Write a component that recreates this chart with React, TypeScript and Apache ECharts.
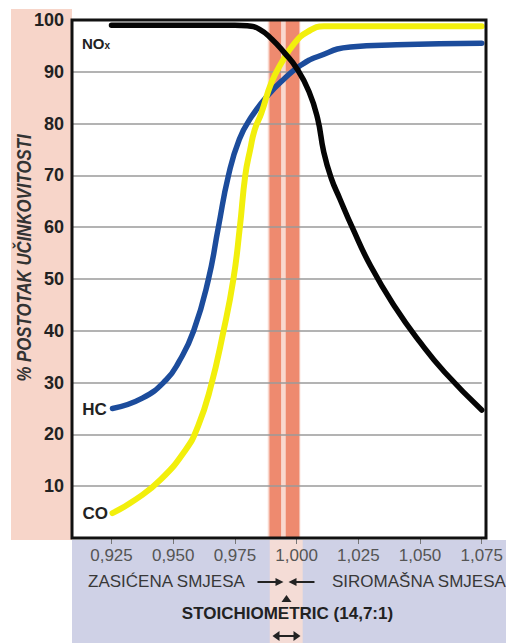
import React, { useEffect, useRef } from 'react';
import * as echarts from 'echarts';

// ---- data ----
const xTicks = [0.925, 0.95, 0.975, 1.0, 1.025, 1.05, 1.075];

const noxX = [0.925, 0.95, 0.975, 0.98, 0.985, 0.99, 0.995, 1.0, 1.005, 1.0085, 1.011, 1.014, 1.0175, 1.0225, 1.03, 1.04, 1.05, 1.06, 1.075];
const noxY = [99, 99, 99, 98.9, 98.2, 96.3, 93.7, 90.7, 86.2, 81, 74.5, 69.5, 65.5, 60, 52.5, 44.5, 37.8, 32, 24.7];

const hcX = [0.9254, 0.9375, 0.9471, 0.9523, 0.9583, 0.9643, 0.9683, 0.9724, 0.9768, 0.9817, 0.9884, 0.9951, 1.0018, 1.0084, 1.0218, 1.0406, 1.075];
const hcY = [25, 27, 30.5, 34, 40, 50, 60, 70, 77, 81.3, 85.5, 88.7, 91.3, 92.9, 94.8, 95.2, 95.5];

const coX = [0.9254, 0.935, 0.945, 0.955, 0.96, 0.965, 0.9704, 0.9744, 0.977, 0.9792, 0.9812, 0.983, 0.9857, 0.9897, 0.9937, 0.9991, 1.0044, 1.0111, 1.03, 1.075];
const coY = [4.8, 7.5, 11.3, 17, 21.5, 28.8, 40, 50, 60, 70, 75, 78.8, 82, 87.8, 91.6, 95.5, 97.7, 98.8, 98.8, 98.8];

const bandOuter = [0.9883, 1.0015];
const bandLeft = [0.989, 0.9937];
const bandRight = [0.9956, 1.0011];
const stoich = 0.995;

const X_MIN = 0.909;
const X_MAX = 1.075;
const GRID = { left: 72, top: 20, width: 414, height: 518 };

const FONT = 'Liberation Sans, Arial, sans-serif';

const xToPx = (v: number) => GRID.left + ((v - X_MIN) / (X_MAX - X_MIN)) * GRID.width;
const yToPx = (v: number) => GRID.top + (1 - v / 100) * GRID.height;

const zip = (xs: number[], ys: number[]) => xs.map((x, i) => [x, ys[i]]);

export default function App() {
  const ref = useRef<HTMLDivElement>(null);

  useEffect(() => {
    if (!ref.current) return;
    const chart = echarts.init(ref.current, null, { renderer: 'svg' });
    const bottom = GRID.top + GRID.height;
    const cx = xToPx(stoich);

    const curve = (name: string, xs: number[], ys: number[], color: string, width: number) => ({
      name,
      type: 'line',
      data: zip(xs, ys),
      symbol: 'none',
      showSymbol: false,
      smooth: 0.5,
      lineStyle: { color, width, cap: 'round', join: 'round' },
      z: 8,
    });

    chart.setOption({
      animation: false,
      backgroundColor: '#ffffff',
      grid: {
        left: GRID.left,
        top: GRID.top,
        width: GRID.width,
        height: GRID.height,
        show: true,
        backgroundColor: '#ffffff',
        borderWidth: 0,
      },
      xAxis: {
        type: 'value',
        min: X_MIN,
        max: X_MAX,
        z: 5,
        axisLine: { show: false },
        splitLine: { show: false },
        axisTick: {
          show: true,
          customValues: xTicks,
          length: 6,
          lineStyle: { color: '#777', width: 1 },
        },
        axisLabel: {
          customValues: xTicks,
          formatter: (v: number) => v.toFixed(3).replace('.', ','),
          color: '#555',
          fontSize: 17,
          fontFamily: FONT,
          margin: 9,
        },
      },
      yAxis: {
        type: 'value',
        min: 0,
        max: 100,
        interval: 10,
        z: 5,
        axisLine: { show: false },
        axisTick: { show: false },
        splitLine: { show: true, lineStyle: { color: '#9a9a9a', width: 1.5 } },
        axisLabel: {
          formatter: (v: number) => (v === 0 ? '' : String(v)),
          color: '#222',
          fontSize: 18,
          fontWeight: 'bold',
          fontFamily: FONT,
          margin: 8,
        },
      },
      series: [
        {
          name: 'bands',
          type: 'line',
          data: [],
          z: 6,
          markArea: {
            silent: true,
            data: [
              [{ xAxis: bandOuter[0], itemStyle: { color: '#f9d8ce' } }, { xAxis: bandOuter[1] }],
              [{ xAxis: bandLeft[0], itemStyle: { color: 'rgba(236,126,98,0.88)' } }, { xAxis: bandLeft[1] }],
              [{ xAxis: bandRight[0], itemStyle: { color: 'rgba(236,126,98,0.88)' } }, { xAxis: bandRight[1] }],
            ],
          },
        },
        curve('HC', hcX, hcY, '#1c4c9c', 5.5),
        curve('CO', coX, coY, '#f2ef0c', 6),
        curve('NOx', noxX, noxY, '#050505', 5.5),
      ],
      graphic: {
        elements: [
          { type: 'rect', z: -5, shape: { x: 11, y: 9, width: GRID.left - 11, height: bottom + 2 - 9 }, style: { fill: '#f7d5c9' } },
          { type: 'rect', z: -5, shape: { x: GRID.left, y: bottom + 2, width: 506 - GRID.left, height: 643 - bottom - 2 }, style: { fill: '#cfd1e6' } },
          {
            type: 'rect', z: -4,
            shape: { x: xToPx(bandOuter[0]), y: bottom + 2, width: xToPx(bandOuter[1]) - xToPx(bandOuter[0]), height: 643 - bottom - 2 },
            style: { fill: '#f4dcd6' },
          },
          {
            type: 'rect', z: 20,
            shape: { x: GRID.left, y: GRID.top, width: GRID.width, height: GRID.height },
            style: { fill: 'none', stroke: '#111', lineWidth: 3 },
          },
          {
            type: 'text', z: 10,
            x: 24, y: 258, rotation: Math.PI / 2, scaleX: 0.8,
            style: {
              text: '% POSTOTAK UČINKOVITOSTI',
              font: 'italic bold 21px ' + FONT,
              fill: '#333',
              align: 'center',
              verticalAlign: 'middle',
            },
          },
          {
            type: 'text', z: 21, x: 82, y: 43,
            style: {
              text: '{a|NO}{b|x}',
              verticalAlign: 'middle',
              rich: {
                a: { fontSize: 15, fontWeight: 'bold', fontFamily: FONT, fill: '#222' },
                b: { fontSize: 10, fontWeight: 'bold', fontFamily: FONT, fill: '#222', padding: [5, 0, 0, 0] },
              },
            },
          },
          {
            type: 'text', z: 21, x: xToPx(hcX[0]) - 6, y: yToPx(hcY[0]) + 1,
            style: { text: 'HC', font: 'bold 17px ' + FONT, fill: '#222', align: 'right', verticalAlign: 'middle' },
          },
          {
            type: 'text', z: 21, x: xToPx(coX[0]) - 5, y: yToPx(coY[0]),
            style: { text: 'CO', font: 'bold 17px ' + FONT, fill: '#222', align: 'right', verticalAlign: 'middle' },
          },
          {
            type: 'text', z: 10, x: 88, y: 581,
            style: { text: 'ZASIĆENA SMJESA', font: '17px ' + FONT, fill: '#383838', align: 'left', verticalAlign: 'middle' },
          },
          {
            type: 'text', z: 10, x: 332, y: 581,
            style: { text: 'SIROMAŠNA SMJESA', font: '17px ' + FONT, fill: '#383838', align: 'left', verticalAlign: 'middle' },
          },
          { type: 'line', z: 10, shape: { x1: cx - 29, y1: 582, x2: cx - 9, y2: 582 }, style: { stroke: '#222', lineWidth: 2 } },
          { type: 'polygon', z: 10, shape: { points: [[cx - 3, 582], [cx - 11, 578], [cx - 11, 586]] }, style: { fill: '#222' } },
          { type: 'line', z: 10, shape: { x1: cx + 8, y1: 582, x2: cx + 28, y2: 582 }, style: { stroke: '#222', lineWidth: 2 } },
          { type: 'polygon', z: 10, shape: { points: [[cx + 2, 582], [cx + 10, 578], [cx + 10, 586]] }, style: { fill: '#222' } },
          { type: 'polygon', z: 10, shape: { points: [[cx, 595], [cx - 5, 602], [cx + 5, 602]] }, style: { fill: '#222' } },
          {
            type: 'text', z: 10, x: cx + 1, y: 613,
            style: { text: 'STOICHIOMETRIC (14,7:1)', font: 'bold 17px ' + FONT, fill: '#222', align: 'center', verticalAlign: 'middle' },
          },
          { type: 'line', z: 10, shape: { x1: cx - 8, y1: 636, x2: cx + 8, y2: 636 }, style: { stroke: '#222', lineWidth: 2 } },
          { type: 'polygon', z: 10, shape: { points: [[cx - 14, 636], [cx - 7, 631], [cx - 7, 641]] }, style: { fill: '#222' } },
          { type: 'polygon', z: 10, shape: { points: [[cx + 14, 636], [cx + 7, 631], [cx + 7, 641]] }, style: { fill: '#222' } },
        ],
      },
    });

    return () => chart.dispose();
  }, []);

  return <div ref={ref} style={{ position: 'absolute', left: 0, top: 0, width: 506, height: 643 }} />;
}
